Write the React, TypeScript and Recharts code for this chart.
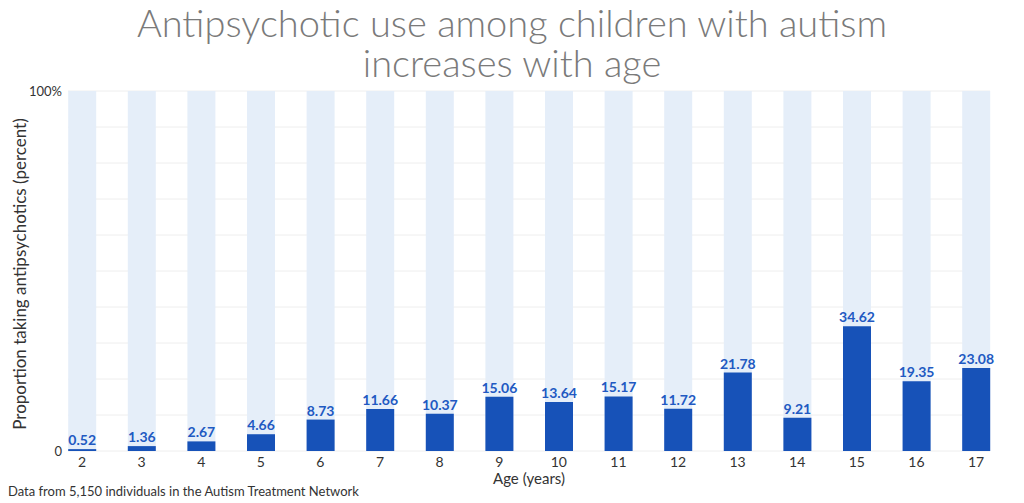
import React from 'react';
import { BarChart, Bar, XAxis, YAxis, CartesianGrid, LabelList } from 'recharts';

const ages = [2, 3, 4, 5, 6, 7, 8, 9, 10, 11, 12, 13, 14, 15, 16, 17];
const percentTaking = [0.52, 1.36, 2.67, 4.66, 8.73, 11.66, 10.37, 15.06, 13.64, 15.17, 11.72, 21.78, 9.21, 34.62, 19.35, 23.08];
const yTicks = [0, 10, 20, 30, 40, 50, 60, 70, 80, 90, 100];

const data = ages.map((age, i) => ({ age, value: percentTaking[i] }));

const font = 'Lato, "Open Sans", sans-serif';

const titleStyle: React.CSSProperties = {
    position: 'absolute', left: 0, width: 1024, textAlign: 'center',
    fontSize: 38, fontWeight: 300, color: '#7a7a7a', lineHeight: '38px', whiteSpace: 'nowrap'
};

export default function App() {
    return (
        <div style={{ position: 'absolute', left: 0, top: 0, width: 1024, height: 503, background: '#fff', fontFamily: font }}>
            <div style={{ ...titleStyle, top: 3 }}>Antipsychotic use among children with autism</div>
            <div style={{ ...titleStyle, top: 43 }}>increases with age</div>
            <div style={{
                position: 'absolute', left: 19, top: 274, transform: 'translate(-50%, -50%) rotate(-90deg)',
                whiteSpace: 'nowrap', fontSize: 17, color: '#333'
            }}>
                Proportion taking antipsychotics (percent)
            </div>
            <div style={{ position: 'absolute', left: 8, top: 483, fontSize: 13, color: '#333', whiteSpace: 'nowrap' }}>
                Data from 5,150 individuals in the Autism Treatment Network
            </div>
            <BarChart
                width={1024}
                height={503}
                data={data}
                margin={{ top: 91, right: 34, left: 0, bottom: 0 }}
                barSize={28}
            >
                <CartesianGrid vertical={false} stroke="#eeeeee" />
                <XAxis
                    dataKey="age"
                    type="number"
                    domain={[2, 17]}
                    ticks={ages}
                    padding={{ left: 14, right: 14 }}
                    axisLine={false}
                    tickLine={false}
                    tickSize={0}
                    tickMargin={6}
                    height={52}
                    tick={{ fontSize: 14, fill: '#333', fontFamily: font }}
                    label={{ value: 'Age (years)', position: 'insideBottom', offset: 19, fontSize: 15, fill: '#333', fontFamily: font }}
                />
                <YAxis
                    type="number"
                    domain={[0, 100]}
                    ticks={yTicks}
                    interval={0}
                    width={68}
                    axisLine={false}
                    tickLine={false}
                    tickSize={0}
                    tickMargin={6}
                    tickFormatter={(v) => (v === 100 ? '100%' : v === 0 ? '0' : '')}
                    tick={{ fontSize: 13, fill: '#333', fontFamily: font }}
                />
                <Bar dataKey="value" fill="#1752b8" background={{ fill: '#e5eef9' }} isAnimationActive={false}>
                    <LabelList dataKey="value" position="top" offset={4} fill="#2159c2" fontSize={14} fontWeight={700} fontFamily={font} formatter={(v) => Number(v).toFixed(2)} />
                </Bar>
            </BarChart>
        </div>
    );
}
